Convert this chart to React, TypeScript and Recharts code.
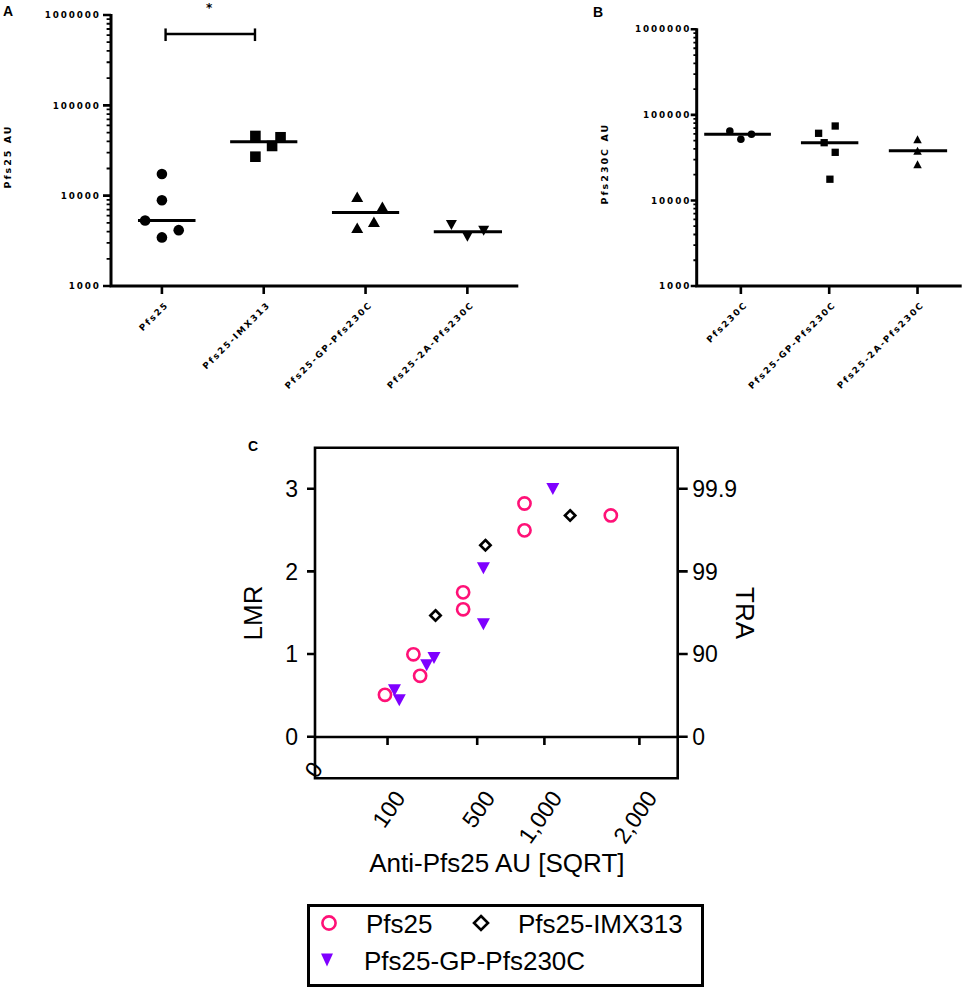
import { ScatterChart, Scatter, XAxis, YAxis, ReferenceLine, ReferenceArea, ReferenceDot } from 'recharts';

// ---- Panel A: anti-Pfs25 AU per vaccine group (log scale) ----
const aGroups = ['Pfs25', 'Pfs25-IMX313', 'Pfs25-GP-Pfs230C', 'Pfs25-2A-Pfs230C'];
const aPfs25 = [17400, 8900, 5300, 4150, 3450];
const aPfs25Jitter = [0, 0, -0.165, 0.165, 0];
const aImx313 = [45800, 44300, 35500, 27000];
const aImx313Jitter = [-0.082, 0.165, 0.082, -0.082];
const aGp = [9750, 7550, 5150, 4420];
const aGpJitter = [-0.082, 0.165, 0.082, -0.082];
const a2a = [4730, 3520, 4090];
const a2aJitter = [-0.157, 0, 0.16];
const aMedians = [5300, 39500, 6500, 3990];

// ---- Panel B: anti-Pfs230C AU per vaccine group (log scale) ----
const bGroups = ['Pfs230C', 'Pfs25-GP-Pfs230C', 'Pfs25-2A-Pfs230C'];
const bPfs230c = [64800, 51800, 59300];
const bPfs230cJitter = [-0.125, 0, 0.12];
const bGp = [60900, 74100, 47300, 36500, 17700];
const bGpJitter = [-0.12, 0.068, -0.057, 0.068, 0.008];
const b2a = [51800, 38100, 26400];
const b2aJitter = [0, 0, 0];
const bMedians = [59300, 47300, 38100];

// ---- Panel C: LMR vs anti-Pfs25 AU (sqrt scale) ----
const cSeries = ['Pfs25', 'Pfs25-IMX313', 'Pfs25-GP-Pfs230C'];
const cPfs25Au = [93, 184, 210, 417, 417, 834, 834, 1663];
const cPfs25Lmr = [0.51, 1.0, 0.74, 1.75, 1.545, 2.825, 2.5, 2.68];
const cImxAu = [276, 552, 1237];
const cImxLmr = [1.47, 2.32, 2.68];
const cGpAu = [120, 135, 237, 269, 539, 539, 1075];
const cGpLmr = [0.565, 0.444, 0.868, 0.957, 2.04, 1.365, 3.0];
const cXTicks = [0, 100, 500, 1000, 2000];
const cLmrTicks = [0, 1, 2, 3];
const cTraLabels = ['0', '90', '99', '99.9'];

const logMajor = [1000, 10000, 100000, 1000000];
const logMinor = [2, 3, 4, 5, 6, 7, 8, 9];
const logMinorTicks = logMajor.slice(0, 3).flatMap((d) => logMinor.map((m) => d * m));

const BLACK = '#000';
const PINK = '#ff1177';
const PURPLE = '#7f00ff';
const ABFONT = '"DejaVu Sans", sans-serif';
const CFONT = '"Liberation Sans", Arial, sans-serif';

const toPoints = (vals: number[], jitter: number[], base: number) =>
  vals.map((v, i) => ({ x: base + jitter[i], y: v }));

// marker shapes
const dot = (r: number) => (p: any) => <circle cx={p.cx} cy={p.cy} r={r} fill={BLACK} />;
const square = (s: number) => (p: any) => <rect x={p.cx - s / 2} y={p.cy - s / 2} width={s} height={s} fill={BLACK} />;
const triUp = (w: number, h: number) => (p: any) => (
  <path d={`M${p.cx},${p.cy - h / 2}L${p.cx + w / 2},${p.cy + h / 2}L${p.cx - w / 2},${p.cy + h / 2}Z`} fill={BLACK} />
);
const triDown = (w: number, h: number, color = BLACK) => (p: any) => (
  <path d={`M${p.cx - w / 2},${p.cy - h / 2}L${p.cx + w / 2},${p.cy - h / 2}L${p.cx},${p.cy + h / 2}Z`} fill={color} />
);
const openCircle = (r: number) => (p: any) => (
  <circle cx={p.cx} cy={p.cy} r={r} fill="none" stroke={PINK} strokeWidth={2.6} />
);
const diamond = (d: number) => (p: any) => (
  <path d={`M${p.cx},${p.cy - d}L${p.cx + d},${p.cy}L${p.cx},${p.cy + d}L${p.cx - d},${p.cy}Z`} fill="none" stroke={BLACK} strokeWidth={2.6} />
);

// text-only tick renderers
const makeLogLabel = (dx: number) => (props: any) => {
  const { x, y, payload } = props;
  return (
    <text x={x + dx} y={y} dy="0.36em" textAnchor="end" fontFamily={ABFONT} fontWeight="bold" fontSize={8.8} letterSpacing={1.9} fill={BLACK}>
      {payload.value}
    </text>
  );
};

const makeCatLabel = (labels: string[]) => (props: any) => {
  const { x, y, payload } = props;
  const tx = x + 5;
  const ty = y + 5;
  return (
    <text x={tx} y={ty} dy="0.36em" textAnchor="end" transform={`rotate(-45, ${tx}, ${ty})`} fontFamily={ABFONT} fontWeight="bold" fontSize={8.8} letterSpacing={1.9} fill={BLACK}>
      {labels[payload.value]}
    </text>
  );
};

const CXTick = (props: any) => {
  const { x, y, payload } = props;
  const v = payload.value;
  const tx = v === 0 ? x + 2 : x + 12;
  const ty = v === 0 ? y - 17 : y + 12;
  return (
    <text x={tx} y={ty} dy="0.36em" textAnchor="end" transform={`rotate(-55, ${tx}, ${ty})`} fontFamily={CFONT} fontSize={23} fill={BLACK}>
      {v.toLocaleString('en-US')}
    </text>
  );
};

const abLabelStyle = { textAnchor: 'middle', fontFamily: ABFONT, fontWeight: 'bold', fontSize: 9.5, letterSpacing: 2, fill: BLACK } as any;
const cLabelStyle = { textAnchor: 'middle', fontFamily: CFONT, fontSize: 26, fill: BLACK } as any;

const PAD = 12; // px of room kept outside the drawn axes for the tick marks

// page geometry of the three plot frames (used for the axis chrome layer)
const geoA = { axX: 111, top: 15, bottom: 286, right: 518.3, pxDecade: 90.33, pxGroup: 101.82, nGroups: 4, majorLen: 8 };
const geoB = { axX: 696.7, top: 29.3, bottom: 286, right: 961.7, pxDecade: 85.57, pxGroup: 88.33, nGroups: 3, majorLen: 6 };
const geoC = { left: 315, right: 677.7, zeroY: 736.7, pxLmr: 82.65, pxSqrt: 362.7 / 50 };

function PanelA() {
  const medianEnds = [[-0.235, 0.33], [-0.33, 0.33], [-0.33, 0.33], [-0.33, 0.34]];
  const xMin = -0.5 - PAD / geoA.pxGroup;
  const yMin = 1000 * Math.pow(10, -PAD / geoA.pxDecade);
  return (
    <ScatterChart width={525} height={400} margin={{ top: 15, right: 6.7, bottom: 0, left: 0 }}>
      <XAxis type="number" dataKey="x" domain={[xMin, 3.5]} ticks={[0, 1, 2, 3]} interval={0} height={102}
        axisLine={false} tickLine={false} tickSize={0} tickMargin={0} tick={makeCatLabel(aGroups)} />
      <YAxis type="number" dataKey="y" scale="log" domain={[yMin, 1000000]} ticks={logMajor} interval={0} width={111 - PAD}
        axisLine={false} tickLine={false} tickSize={0} tickMargin={0} tick={makeLogLabel(1.9)}
        label={{ value: 'Pfs25 AU', angle: -90, position: 'insideLeft', offset: 7.5, style: abLabelStyle }} />
      {aMedians.map((m, i) => (
        <ReferenceLine key={i} segment={[{ x: i + medianEnds[i][0], y: m }, { x: i + medianEnds[i][1], y: m }]} stroke={BLACK} strokeWidth={3} />
      ))}
      <ReferenceLine segment={[{ x: 0.036, y: 616000 }, { x: 0.914, y: 616000 }]} stroke={BLACK} strokeWidth={2.4} />
      <ReferenceLine segment={[{ x: 0.036, y: 515000 }, { x: 0.036, y: 710000 }]} stroke={BLACK} strokeWidth={2.4} />
      <ReferenceLine segment={[{ x: 0.914, y: 515000 }, { x: 0.914, y: 710000 }]} stroke={BLACK} strokeWidth={2.4} />
      <ReferenceDot x={0.465} y={1000000} r={0} fill="none" stroke="none"
        label={{ value: '*', position: 'top', offset: 3.5, style: { fontFamily: ABFONT, fontWeight: 'bold', fontSize: 12, fill: BLACK } }} />
      <Scatter data={toPoints(aPfs25, aPfs25Jitter, 0)} shape={dot(5.3)} isAnimationActive={false} />
      <Scatter data={toPoints(aImx313, aImx313Jitter, 1)} shape={square(10.6)} isAnimationActive={false} />
      <Scatter data={toPoints(aGp, aGpJitter, 2)} shape={triUp(12, 10.5)} isAnimationActive={false} />
      <Scatter data={toPoints(a2a, a2aJitter, 3)} shape={triDown(11, 10)} isAnimationActive={false} />
    </ScatterChart>
  );
}

function PanelB() {
  const medianEnds = [[-0.415, 0.34], [-0.32, 0.33], [-0.325, 0.335]];
  const xMin = -0.5 - PAD / geoB.pxGroup;
  const yMin = 1000 * Math.pow(10, -PAD / geoB.pxDecade);
  return (
    <ScatterChart width={405} height={400} margin={{ top: 29.3, right: 3.3, bottom: 0, left: 0 }}>
      <XAxis type="number" dataKey="x" domain={[xMin, 2.5]} ticks={[0, 1, 2]} interval={0} height={102}
        axisLine={false} tickLine={false} tickSize={0} tickMargin={0} tick={makeCatLabel(bGroups)} />
      <YAxis type="number" dataKey="y" scale="log" domain={[yMin, 1000000]} ticks={logMajor} interval={0} width={136.7 - PAD}
        axisLine={false} tickLine={false} tickSize={0} tickMargin={0} tick={makeLogLabel(6.5)}
        label={{ value: 'Pfs230C AU', angle: -90, position: 'insideLeft', offset: 45, style: abLabelStyle }} />
      {bMedians.map((m, i) => (
        <ReferenceLine key={i} segment={[{ x: i + medianEnds[i][0], y: m }, { x: i + medianEnds[i][1], y: m }]} stroke={BLACK} strokeWidth={3} />
      ))}
      <Scatter data={toPoints(bPfs230c, bPfs230cJitter, 0)} shape={dot(3.8)} isAnimationActive={false} />
      <Scatter data={toPoints(bGp, bGpJitter, 1)} shape={square(7.3)} isAnimationActive={false} />
      <Scatter data={toPoints(b2a, b2aJitter, 2)} shape={triUp(8.5, 8)} isAnimationActive={false} />
    </ScatterChart>
  );
}

function PanelC() {
  const pts = (xs: number[], ys: number[]) => xs.map((x, i) => ({ x, y: ys[i] }));
  const xMin = -Math.pow(PAD / geoC.pxSqrt, 2);
  const xMax = Math.pow(50 + (PAD + 1) / geoC.pxSqrt, 2);
  const yDom = [-0.5 - 3 / geoC.pxLmr, 3.5 + 3 / geoC.pxLmr];
  return (
    <ScatterChart width={540} height={480} margin={{ top: 24.7, right: 0, bottom: 0, left: 0 }}>
      <XAxis type="number" dataKey="x" scale="sqrt" domain={[xMin, xMax]} ticks={cXTicks} interval={0} height={118.7}
        axisLine={false} tickLine={false} tickSize={0} tickMargin={0} tick={CXTick}
        label={{ value: 'Anti-Pfs25 AU [SQRT]', position: 'insideBottom', offset: 28, style: cLabelStyle }} />
      <YAxis yAxisId="left" type="number" dataKey="y" domain={yDom} ticks={cLmrTicks} interval={0} width={73}
        axisLine={false} tickLine={false} tickSize={0} tickMargin={5}
        tick={{ fill: BLACK, fontSize: 23, fontFamily: CFONT }}
        label={{ value: 'LMR', angle: -90, position: 'insideLeft', offset: 23, style: cLabelStyle }} />
      <YAxis yAxisId="right" orientation="right" type="number" domain={yDom} ticks={cLmrTicks} interval={0} width={79.3}
        allowDataOverflow axisLine={false} tickLine={false} tickSize={0} tickMargin={1.6}
        tickFormatter={(v: number) => cTraLabels[v]} tick={{ fill: BLACK, fontSize: 23, fontFamily: CFONT }}
        label={{ value: 'TRA', angle: 90, position: 'insideRight', offset: 24.7, style: cLabelStyle }} />
      <ReferenceArea yAxisId="left" x1={0} x2={2500} y1={-0.5} y2={3.5} fill="none" fillOpacity={0} stroke={BLACK} strokeWidth={2.6} />
      <ReferenceLine yAxisId="left" segment={[{ x: 0, y: 0 }, { x: 2500, y: 0 }]} stroke={BLACK} strokeWidth={2.6} />
      <Scatter name={cSeries[0]} yAxisId="left" data={pts(cPfs25Au, cPfs25Lmr)} shape={openCircle(6.1)} isAnimationActive={false} />
      <Scatter name={cSeries[1]} yAxisId="left" data={pts(cImxAu, cImxLmr)} shape={diamond(5.2)} isAnimationActive={false} />
      <Scatter name={cSeries[2]} yAxisId="left" data={pts(cGpAu, cGpLmr)} shape={triDown(13, 12, PURPLE)} isAnimationActive={false} />
    </ScatterChart>
  );
}

// axis lines and tick marks of the dot plots (GraphPad style)
function dotPlotChrome(g: typeof geoA) {
  const yOf = (v: number) => g.bottom - g.pxDecade * Math.log10(v / 1000);
  const axes = `M${g.axX},${g.top - 1}L${g.axX},${g.bottom + 1.5}M${g.axX - 1.5},${g.bottom}L${g.right},${g.bottom}`;
  const majors = logMajor.map((v) => `M${g.axX - g.majorLen},${yOf(v)}L${g.axX},${yOf(v)}`).join('');
  const minors = logMinorTicks.map((v) => `M${g.axX - g.majorLen * 0.55},${yOf(v)}L${g.axX},${yOf(v)}`).join('');
  const xticks = Array.from({ length: g.nGroups }, (_, i) => {
    const x = g.axX + g.pxGroup * (i + 0.5);
    return `M${x},${g.bottom}L${x},${g.bottom + 8}`;
  }).join('');
  return (
    <g fill="none" stroke={BLACK}>
      <path d={axes} strokeWidth={3} />
      <path d={majors + xticks} strokeWidth={2.6} />
      <path d={minors} strokeWidth={1.8} />
    </g>
  );
}

function lmrChrome() {
  const g = geoC;
  const yOf = (t: number) => g.zeroY - g.pxLmr * t;
  const side = cLmrTicks
    .map((t) => `M${g.left - 8},${yOf(t)}L${g.left},${yOf(t)}M${g.right},${yOf(t)}L${g.right + 10},${yOf(t)}`)
    .join('');
  const bottom = cXTicks
    .filter((t) => t > 0)
    .map((t) => {
      const x = g.left + g.pxSqrt * Math.sqrt(t);
      return `M${x},${g.zeroY}L${x},${g.zeroY + 8.3}`;
    })
    .join('');
  return <path d={side + bottom} fill="none" stroke={BLACK} strokeWidth={2.6} />;
}

function Overlay() {
  const legendMarks = [openCircle(6.6), diamond(7), triDown(12, 13, PURPLE)];
  const legendPos = [
    { mx: 329, my: 923, tx: 366, ty: 933 },
    { mx: 481, my: 923, tx: 518, ty: 933 },
    { mx: 327, my: 960, tx: 364, ty: 970 },
  ];
  const letter = { fontFamily: CFONT, fontWeight: 'bold', fontSize: 14, fill: BLACK } as any;
  return (
    <svg width={965} height={991} style={{ position: 'absolute', left: 0, top: 0, pointerEvents: 'none' }}>
      {dotPlotChrome(geoA)}
      {dotPlotChrome(geoB)}
      {lmrChrome()}
      <text x={3} y={16} style={letter}>A</text>
      <text x={593} y={16.5} style={letter}>B</text>
      <text x={248} y={451} style={letter}>C</text>
      <rect x={308.5} y={905.5} width={394} height={80} fill="none" stroke={BLACK} strokeWidth={3} />
      {cSeries.map((name, i) => (
        <g key={name}>
          {legendMarks[i]({ cx: legendPos[i].mx, cy: legendPos[i].my })}
          <text x={legendPos[i].tx} y={legendPos[i].ty} fontFamily={CFONT} fontSize={26} fill={BLACK}>{name}</text>
        </g>
      ))}
    </svg>
  );
}

export default function App() {
  return (
    <div style={{ position: 'absolute', left: 0, top: 0, width: 965, height: 991, background: '#fff' }}>
      <div style={{ position: 'absolute', left: 0, top: 0 }}><PanelA /></div>
      <div style={{ position: 'absolute', left: 560, top: 0 }}><PanelB /></div>
      <div style={{ position: 'absolute', left: 230, top: 420 }}><PanelC /></div>
      <Overlay />
    </div>
  );
}
